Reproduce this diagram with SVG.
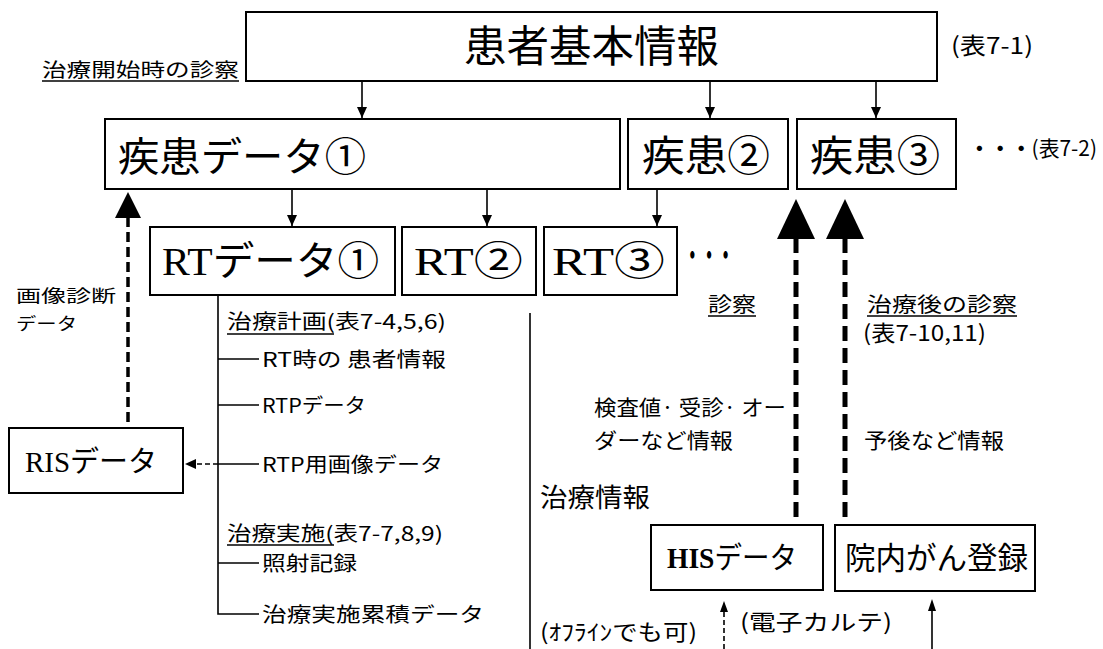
<svg xmlns="http://www.w3.org/2000/svg" width="1103" height="649" viewBox="0 0 1103 649">
<style>
text{font-family:'Noto Sans CJK JP','Noto Sans CJK SC',sans-serif;fill:#000}
.s{font-family:'Liberation Serif','Noto Sans CJK JP',serif}
.box{fill:#fff;stroke:#000;stroke-width:2}
.ln{stroke:#000;stroke-width:1.6;fill:none}
.ul{stroke:#000;stroke-width:1.4;fill:none}
.thick{stroke:#000;stroke-width:5;stroke-dasharray:15 7;fill:none}
.mid{stroke:#000;stroke-width:3.5;stroke-dasharray:10 5;fill:none}
.thin{stroke:#000;stroke-width:1.6;stroke-dasharray:5 3;fill:none}
</style>
<defs>
<marker id="ah" markerWidth="12" markerHeight="12" refX="11" refY="6" orient="auto" markerUnits="userSpaceOnUse">
<path d="M0,1 L11,6 L0,11 Z" fill="#000"/>
</marker>
</defs>
<rect width="1103" height="649" fill="#fff"/>

<g id="connectors">
<line class="ln" x1="362" y1="81" x2="362" y2="118" marker-end="url(#ah)"/>
<line class="ln" x1="710" y1="81" x2="710" y2="118" marker-end="url(#ah)"/>
<line class="ln" x1="876" y1="81" x2="876" y2="118" marker-end="url(#ah)"/>
<line class="ln" x1="292" y1="189" x2="292" y2="226" marker-end="url(#ah)"/>
<line class="ln" x1="487" y1="189" x2="487" y2="226" marker-end="url(#ah)"/>
<line class="ln" x1="657" y1="189" x2="657" y2="226" marker-end="url(#ah)"/>
<line class="thick" x1="796" y1="238" x2="796" y2="525"/>
<polygon points="796,199 777,239 815,239" fill="#000"/>
<line class="thick" x1="845" y1="238" x2="845" y2="525"/>
<polygon points="845,199 826,239 864,239" fill="#000"/>
<line class="mid" x1="128" y1="217" x2="128" y2="428"/>
<polygon points="128,192 115,218 141,218" fill="#000"/>
<line class="thin" x1="218" y1="464" x2="195" y2="464"/>
<polygon points="185,464 196,459 196,469" fill="#000"/>
<line class="thin" x1="724" y1="649" x2="724" y2="610"/>
<polygon points="724,601 720,612 728,612" fill="#000"/>
<line class="ln" x1="932" y1="649" x2="932" y2="608"/>
<polygon points="932,599 928,611 936,611" fill="#000"/>
<polyline class="ln" points="218,295 218,614 259,614"/>
<line class="ln" x1="218" y1="359" x2="259" y2="359"/>
<line class="ln" x1="218" y1="405" x2="259" y2="405"/>
<line class="ln" x1="218" y1="464" x2="259" y2="464"/>
<line class="ln" x1="218" y1="563" x2="259" y2="563"/>
<line class="ln" x1="530" y1="313" x2="530" y2="649"/>
</g>

<g id="patient">
<rect class="box" x="246" y="12" width="691" height="69"/>
<text x="464" y="62" font-size="43" textLength="255" lengthAdjust="spacingAndGlyphs">患者基本情報</text>
</g>
<g id="label-start">
<text x="42" y="77" font-size="19" textLength="197" lengthAdjust="spacingAndGlyphs">治療開始時の診察</text>
<line class="ul" x1="42" y1="81" x2="239" y2="81"/>
</g>
<g id="table71"><text x="951" y="54" font-size="23" textLength="82" lengthAdjust="spacingAndGlyphs">(表7-1)</text></g>

<g id="disease1">
<rect class="box" x="105" y="119" width="515" height="70"/>
<text x="118" y="171" font-size="40" textLength="248" lengthAdjust="spacingAndGlyphs">疾患データ①</text>
</g>
<g id="disease2">
<rect class="box" x="628" y="119" width="160" height="70"/>
<text x="642" y="171" font-size="42" textLength="128" lengthAdjust="spacingAndGlyphs">疾患②</text>
</g>
<g id="disease3">
<rect class="box" x="797" y="119" width="159" height="70"/>
<text x="810" y="171" font-size="42" textLength="130" lengthAdjust="spacingAndGlyphs">疾患③</text>
</g>
<g id="table72"><text x="969" y="156" font-size="21" textLength="128" lengthAdjust="spacingAndGlyphs"><tspan font-weight="bold">・・・</tspan>(表7-2)</text></g>

<g id="rt1">
<rect class="box" x="150" y="227" width="245" height="68"/>
<text x="162" y="275" font-size="40" textLength="217" lengthAdjust="spacingAndGlyphs"><tspan class="s">RT</tspan>データ①</text>
</g>
<g id="rt2">
<rect class="box" x="402" y="227" width="134" height="68"/>
<text x="414" y="275" font-size="40" textLength="109" lengthAdjust="spacingAndGlyphs"><tspan class="s">RT</tspan>②</text>
</g>
<g id="rt3">
<rect class="box" x="544" y="227" width="133" height="68"/>
<text x="552" y="275" font-size="40" textLength="113" lengthAdjust="spacingAndGlyphs"><tspan class="s">RT</tspan>③</text>
</g>
<g id="rt-more"><text x="684" y="266" font-size="30" font-weight="bold" textLength="50" lengthAdjust="spacingAndGlyphs">・・・</text></g>

<g id="img-diag">
<text x="16" y="302" font-size="17" textLength="100" lengthAdjust="spacingAndGlyphs">画像診断</text>
<text x="16" y="330" font-size="17" textLength="61" lengthAdjust="spacingAndGlyphs">データ</text>
</g>

<g id="rt-tree">
<text x="227" y="329" font-size="20" textLength="219" lengthAdjust="spacingAndGlyphs">治療計画(表7-4,5,6)</text>
<line class="ul" x1="227" y1="334" x2="334" y2="334"/>
<text x="262" y="367" font-size="20" textLength="184" lengthAdjust="spacingAndGlyphs">RT時の 患者情報</text>
<text x="262" y="413" font-size="20" textLength="104" lengthAdjust="spacingAndGlyphs">RTPデータ</text>
<text x="262" y="472" font-size="20" textLength="181" lengthAdjust="spacingAndGlyphs">RTP用画像データ</text>
<text x="227" y="541" font-size="20" textLength="216" lengthAdjust="spacingAndGlyphs">治療実施(表7-7,8,9)</text>
<line class="ul" x1="227" y1="545" x2="334" y2="545"/>
<text x="262" y="571" font-size="20" textLength="95" lengthAdjust="spacingAndGlyphs">照射記録</text>
<text x="262" y="622" font-size="20" textLength="222" lengthAdjust="spacingAndGlyphs">治療実施累積データ</text>
</g>

<g id="ris">
<rect class="box" x="9" y="428" width="174" height="65"/>
<text x="25" y="472" font-size="29" textLength="132" lengthAdjust="spacingAndGlyphs"><tspan class="s">RIS</tspan>データ</text>
</g>

<g id="exam-labels">
<text x="708" y="312" font-size="20" textLength="48" lengthAdjust="spacingAndGlyphs">診察</text>
<line class="ul" x1="708" y1="316" x2="756" y2="316"/>
<text x="867" y="312" font-size="20" textLength="150" lengthAdjust="spacingAndGlyphs">治療後の診察</text>
<line class="ul" x1="867" y1="316" x2="1017" y2="316"/>
<text x="863" y="341" font-size="22" textLength="123" lengthAdjust="spacingAndGlyphs">(表7-10,11)</text>
<text x="594" y="415" font-size="21" textLength="192" lengthAdjust="spacingAndGlyphs">検査値· 受診· オー</text>
<text x="594" y="448" font-size="21" textLength="139" lengthAdjust="spacingAndGlyphs">ダーなど情報</text>
<text x="864" y="448" font-size="21" textLength="140" lengthAdjust="spacingAndGlyphs">予後など情報</text>
<text x="540" y="507" font-size="26" textLength="110" lengthAdjust="spacingAndGlyphs">治療情報</text>
</g>

<g id="his">
<rect class="box" x="651" y="525" width="172" height="65"/>
<text x="667" y="568" font-size="30" textLength="130" lengthAdjust="spacingAndGlyphs"><tspan class="s" font-weight="bold">HIS</tspan>データ</text>
</g>
<g id="cancer-reg">
<rect class="box" x="835" y="525" width="200" height="66"/>
<text x="845" y="569" font-size="31" textLength="183" lengthAdjust="spacingAndGlyphs">院内がん登録</text>
</g>
<g id="bottom-labels">
<text x="540" y="640" font-size="22" textLength="157" lengthAdjust="spacingAndGlyphs">(ｵﾌﾗｲﾝでも可)</text>
<text x="740" y="630" font-size="22" textLength="152" lengthAdjust="spacingAndGlyphs">(電子カルテ)</text>
</g>
</svg>
